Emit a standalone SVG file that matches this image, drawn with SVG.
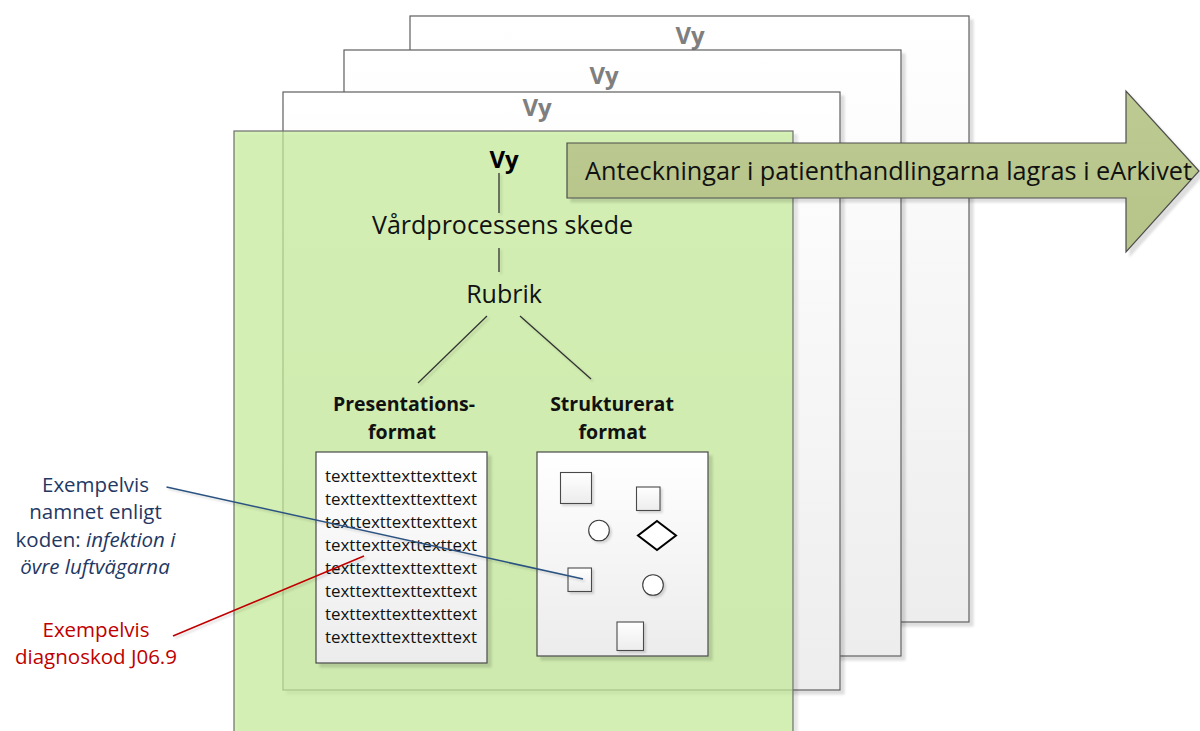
<svg xmlns="http://www.w3.org/2000/svg" width="1200" height="731" viewBox="0 0 1200 731">
  <style>
    .page { fill: url(#pageFill); stroke: #5f5f5f; stroke-width: 1.2; filter: url(#shadow); }
    .front { fill: #c6ec98; fill-opacity: 0.7; stroke: #6e6e6e; stroke-width: 1.2; filter: url(#shadow); }
    .vy-gray { font-family: "Open Sans", "Liberation Sans", sans-serif; font-weight: bold; font-size: 24px; fill: #7f7f7f; text-anchor: middle; }
    .vy { font-family: "Open Sans", "Liberation Sans", sans-serif; font-weight: bold; font-size: 24px; fill: #000; text-anchor: middle; }
    .lbl { font-family: "Open Sans", "Liberation Sans", sans-serif; font-size: 25px; fill: #111; text-anchor: middle; }
    .arrow-lbl { font-family: "Open Sans", "Liberation Sans", sans-serif; font-size: 25px; fill: #111; text-anchor: start; }
    .hdr { font-family: "Open Sans", "Liberation Sans", sans-serif; font-weight: bold; font-size: 19.5px; fill: #111; text-anchor: middle; }
    .txt { font-family: "Open Sans", "Liberation Sans", sans-serif; font-size: 16.5px; fill: #111; }
    .note-blue { font-family: "Open Sans", "Liberation Sans", sans-serif; font-size: 20.5px; fill: #1f3864; text-anchor: middle; }
    .note-red { font-family: "Open Sans", "Liberation Sans", sans-serif; font-size: 20.5px; fill: #c00000; text-anchor: middle; }
    .box { fill: url(#boxFill); stroke: #4a4a4a; stroke-width: 1.2; filter: url(#shadow); }
    .sq { fill: url(#boxFill); stroke: #4a4a4a; stroke-width: 1.1; filter: url(#shadowSm); }
    .ci { fill: #fff; stroke: #3a3a3a; stroke-width: 1.1; filter: url(#shadowSm); }
    .tree { stroke: #333; stroke-width: 1.3; fill: none; filter: url(#lineShadow); }
  </style>
  <defs>
    <linearGradient id="pageFill" x1="0" y1="0" x2="0" y2="1">
      <stop offset="0" stop-color="#ffffff"/>
      <stop offset="1" stop-color="#ededed"/>
    </linearGradient>
    <linearGradient id="boxFill" x1="0" y1="0" x2="0" y2="1">
      <stop offset="0" stop-color="#ffffff"/>
      <stop offset="1" stop-color="#ececec"/>
    </linearGradient>
    <linearGradient id="arrowFill" x1="0" y1="0" x2="0" y2="1">
      <stop offset="0" stop-color="#bdca92"/>
      <stop offset="1" stop-color="#b6c489"/>
    </linearGradient>
    <filter id="shadow" x="-5%" y="-5%" width="115%" height="115%">
      <feDropShadow dx="4" dy="4" stdDeviation="0.8" flood-color="#000" flood-opacity="0.13"/>
    </filter>
    <filter id="shadowSm" x="-20%" y="-20%" width="150%" height="150%">
      <feDropShadow dx="2" dy="2" stdDeviation="0.8" flood-color="#000" flood-opacity="0.15"/>
    </filter>
    <!-- user-space region so straight vertical lines keep their shadow -->
    <filter id="lineShadow" filterUnits="userSpaceOnUse" x="0" y="0" width="1200" height="731">
      <feDropShadow dx="2" dy="2" stdDeviation="0.8" flood-color="#000" flood-opacity="0.15"/>
    </filter>
  </defs>

  <rect width="1200" height="731" fill="#ffffff"/>

  <!-- stacked view sheets, back to front -->
  <g id="sheet-4">
    <rect class="page" x="410" y="16" width="559" height="606"/>
    <text class="vy-gray" x="690" y="44">Vy</text>
  </g>
  <g id="sheet-3">
    <rect class="page" x="344" y="50" width="557" height="606"/>
    <text class="vy-gray" x="604" y="84">Vy</text>
  </g>
  <g id="sheet-2">
    <rect class="page" x="283" y="92" width="557" height="598"/>
    <text class="vy-gray" x="537" y="116">Vy</text>
  </g>
  <g id="sheet-1">
    <rect class="front" x="234" y="131" width="559" height="620"/>
  </g>

  <!-- tree on the front sheet -->
  <g id="node-vy">
    <text class="vy" x="504" y="168">Vy</text>
  </g>
  <g id="node-vardprocess">
    <text class="lbl" x="502.5" y="234" textLength="261" lengthAdjust="spacingAndGlyphs">Vårdprocessens skede</text>
  </g>
  <g id="node-rubrik">
    <text class="lbl" x="504" y="303">Rubrik</text>
  </g>

  <g id="node-presentation">
    <text class="hdr" x="404" y="411">Presentations-</text>
    <text class="hdr" x="402" y="439">format</text>
    <rect class="box" x="316" y="452" width="171" height="211"/>
    <g class="txt">
      <text x="325" y="482" textLength="152" lengthAdjust="spacingAndGlyphs">texttexttexttexttext</text>
      <text x="325" y="505" textLength="152" lengthAdjust="spacingAndGlyphs">texttexttexttexttext</text>
      <text x="325" y="528" textLength="152" lengthAdjust="spacingAndGlyphs">texttexttexttexttext</text>
      <text x="325" y="551" textLength="152" lengthAdjust="spacingAndGlyphs">texttexttexttexttext</text>
      <text x="325" y="574" textLength="152" lengthAdjust="spacingAndGlyphs">texttexttexttexttext</text>
      <text x="325" y="597" textLength="152" lengthAdjust="spacingAndGlyphs">texttexttexttexttext</text>
      <text x="325" y="620" textLength="152" lengthAdjust="spacingAndGlyphs">texttexttexttexttext</text>
      <text x="325" y="643" textLength="152" lengthAdjust="spacingAndGlyphs">texttexttexttexttext</text>
    </g>
  </g>

  <g id="node-strukturerat">
    <text class="hdr" x="612" y="411">Strukturerat</text>
    <text class="hdr" x="612.5" y="439">format</text>
    <rect class="box" x="537" y="452" width="171" height="204"/>
    <rect class="sq" x="560.5" y="472.5" width="31" height="31"/>
    <rect class="sq" x="636.5" y="487" width="23.5" height="23.5"/>
    <circle class="ci" cx="599" cy="530.5" r="10.3"/>
    <path d="M657 521 L676 535.5 L657 550 L638 535.5 Z" fill="#fff" stroke="#000" stroke-width="2" stroke-linejoin="miter"/>
    <rect class="sq" x="568" y="568" width="23.5" height="23.5"/>
    <circle class="ci" cx="653" cy="585" r="10.3"/>
    <rect class="sq" x="617" y="622" width="26.5" height="28.5"/>
  </g>

  <!-- callout texts -->
  <g id="note-namn">
    <text class="note-blue" x="95.5" y="492">Exempelvis</text>
    <text class="note-blue" x="95.5" y="519">namnet enligt</text>
    <text class="note-blue" x="95.5" y="546.5">koden: <tspan font-style="italic">infektion i</tspan></text>
    <text class="note-blue" x="95" y="574" font-style="italic">övre luftvägarna</text>
  </g>
  <g id="note-kod">
    <text class="note-red" x="96" y="636.5">Exempelvis</text>
    <text class="note-red" x="96" y="663.5">diagnoskod J06.9</text>
  </g>

  <g id="connectors">
    <line class="tree" x1="499" y1="173" x2="499" y2="213"/>
    <line class="tree" x1="499" y1="248" x2="499" y2="272"/>
    <line class="tree" x1="487" y1="316" x2="418" y2="383"/>
    <line class="tree" x1="520" y1="316" x2="591" y2="379"/>
    <line x1="166.5" y1="487" x2="583" y2="579" stroke="#2b5381" stroke-width="1.5" filter="url(#lineShadow)"/>
    <line x1="173" y1="636" x2="364" y2="556" stroke="#c00000" stroke-width="1.5" filter="url(#lineShadow)"/>
  </g>

  <!-- archive arrow across the sheets -->
  <g id="node-arrow">
    <path d="M567 143 H1126 V91 L1199 171 L1126 252 V198 H567 Z" fill="url(#arrowFill)" stroke="#4d4d4d" stroke-width="1.2" stroke-linejoin="miter" filter="url(#shadow)"/>
    <text class="arrow-lbl" x="585" y="180" textLength="607" lengthAdjust="spacingAndGlyphs">Anteckningar i patienthandlingarna lagras i eArkivet</text>
  </g>
</svg>
